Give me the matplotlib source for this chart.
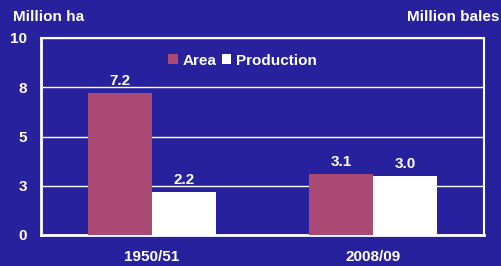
import matplotlib.pyplot as plt
import numpy as np

plt.rcParams['font.family'] = ['Liberation Sans', 'DejaVu Sans']
plt.rcParams['font.weight'] = 'bold'

seasons = ['1950/51', '2008/09']
area = [7.2, 3.1]
production = [2.2, 3.0]
yticks = [0, 2.5, 5, 7.5, 10]
ytick_labels = ['0', '3', '5', '8', '10']

bg = '#28219d'
area_color = '#aa4a74'
fs = 11

fig = plt.figure(figsize=(5.02, 2.66), dpi=100, facecolor=bg)
ax = fig.add_axes([41 / 502, 1 - 235 / 266, 443 / 502, 197 / 266], facecolor=bg)

x = np.arange(len(seasons))
w = 0.29
b1 = ax.bar(x - w / 2, area, w, color=area_color, label='Area', zorder=3)
b2 = ax.bar(x + w / 2, production, w, color='white', label='Production', zorder=3)

for bars, vals in ((b1, area), (b2, production)):
    for r, v in zip(bars, vals):
        ax.text(r.get_x() + r.get_width() / 2, v + 0.25, f'{v:.1f}', ha='center', va='bottom',
                color='white', fontsize=fs, fontweight='bold')

ax.set_xlim(-0.5, 1.5)
ax.set_ylim(0, 10)
ax.set_yticks(yticks)
ax.set_yticklabels(ytick_labels)
ax.set_xticks(x)
ax.set_xticklabels(seasons)
ax.tick_params(axis='both', length=0, colors='white', labelsize=fs)
ax.tick_params(axis='y', pad=10)
ax.tick_params(axis='x', pad=11)
ax.grid(axis='y', color='white', linewidth=1, zorder=0)
for s in ax.spines.values():
    s.set_color('white')
    s.set_linewidth(1.5)
ax.spines['left'].set_linewidth(2)
ax.spines['bottom'].set_linewidth(2)

leg = ax.legend(loc='upper center', bbox_to_anchor=(0.455, 0.99), ncol=2, frameon=False,
                handlelength=0.6, handleheight=0.6, handletextpad=0.3, columnspacing=0.4,
                labelcolor='white', fontsize=fs)

fig.text(13 / 502, 1 - 17 / 266, 'Million ha', color='white', fontsize=fs, fontweight='bold',
         ha='left', va='center')
fig.text(499 / 502, 1 - 17 / 266, 'Million bales', color='white', fontsize=fs, fontweight='bold',
         ha='right', va='center')

fig.savefig('out.png', dpi=100, facecolor=bg)
